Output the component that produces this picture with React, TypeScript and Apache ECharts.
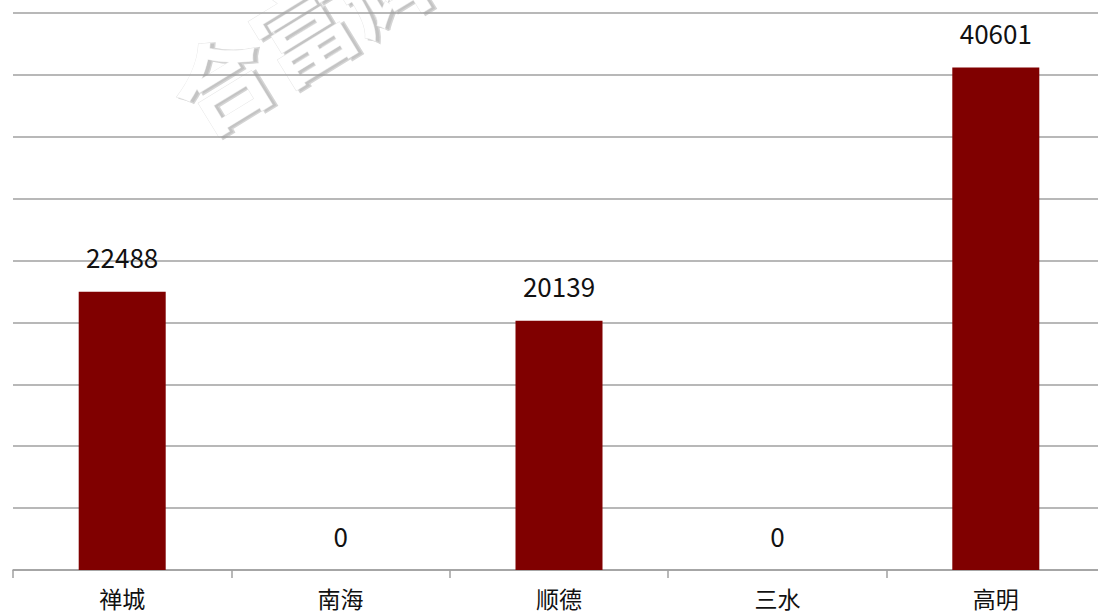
import React, { useEffect, useRef } from "react";
import * as echarts from "echarts";

const categories = ["禅城", "南海", "顺德", "三水", "高明"];
const values = [22488, 0, 20139, 0, 40601];
const yMin = 0;
const yMax = 45000;
const yInterval = 5000;
const watermarkText = "合富辉煌";

export default function App() {
  const ref = useRef<HTMLDivElement>(null);
  useEffect(() => {
    if (!ref.current) return;
    const chart = echarts.init(ref.current, undefined, { renderer: "svg" });
    const wmFont = "bold 96px 'Noto Sans CJK SC'";
    chart.setOption({
      animation: false,
      backgroundColor: "#ffffff",
      grid: { left: 13, top: 13, bottom: 42, right: 7, containLabel: false },
      graphic: [
        {
          type: "group",
          x: 178,
          y: 104,
          rotation: 0.55,
          z: -10,
          silent: true,
          children: [
            {
              type: "text",
              x: 3,
              y: 3,
              style: {
                text: watermarkText,
                font: wmFont,
                fill: "#c4c4c4",
                stroke: "#d4d4d4",
                lineWidth: 3,
                textAlign: "left",
                textVerticalAlign: "middle",
              },
            },
            {
              type: "text",
              x: 0,
              y: 0,
              style: {
                text: watermarkText,
                font: wmFont,
                fill: "#ffffff",
                stroke: "#e6e6e6",
                lineWidth: 1,
                textAlign: "left",
                textVerticalAlign: "middle",
              },
            },
          ],
        },
      ],
      xAxis: {
        type: "category",
        data: categories,
        axisLine: { lineStyle: { color: "#a0a0a0", width: 1.5 } },
        axisTick: { show: true, length: 8, alignWithLabel: false, lineStyle: { color: "#a0a0a0", width: 1.5 } },
        axisLabel: {
          fontSize: 23,
          color: "#111111",
          margin: 16,
          fontFamily: "'Noto Sans CJK SC', sans-serif",
        },
        z: 5,
      },
      yAxis: {
        type: "value",
        min: yMin,
        max: yMax,
        interval: yInterval,
        axisLabel: { show: false },
        axisLine: { show: false },
        axisTick: { show: false },
        splitLine: { lineStyle: { color: "#a0a0a0", width: 1.5 } },
        z: 5,
      },
      series: [
        {
          type: "bar",
          data: values,
          barWidth: 87,
          itemStyle: { color: "#800000" },
          label: {
            show: true,
            position: "top",
            distance: 22,
            fontSize: 26,
            color: "#111111",
            fontFamily: "'Noto Sans CJK SC', sans-serif",
          },
          z: 6,
        },
      ],
    });
    return () => chart.dispose();
  }, []);
  return (
    <div style={{ position: "absolute", left: 0, top: 0, width: 1098, height: 612, overflow: "hidden" }}>
      <div ref={ref} style={{ width: 1112, height: 612 }} />
    </div>
  );
}
